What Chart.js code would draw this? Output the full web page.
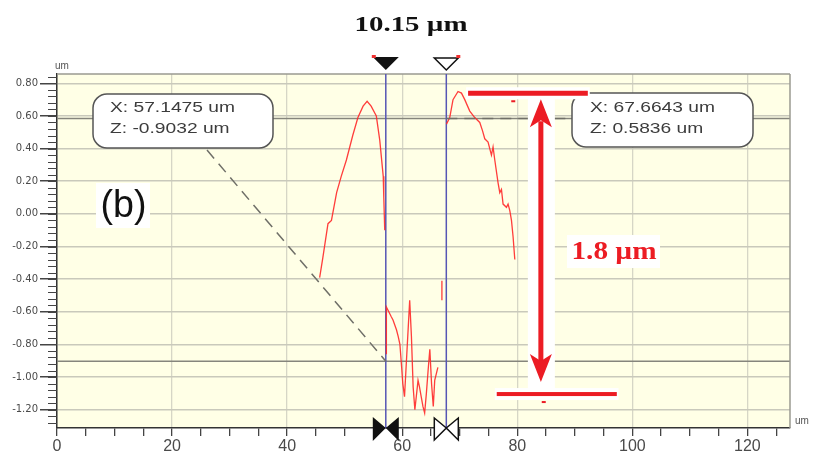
<!DOCTYPE html>
<html>
<head>
<meta charset="utf-8">
<script src="https://cdn.jsdelivr.net/npm/chart.js@4.4.0/dist/chart.umd.min.js"></script>
<style>
  html, body { margin: 0; padding: 0; background: #fff; }
</style>
</head>
<body>
<canvas id="profile-chart" width="814" height="457"></canvas>
<script>
// profile segments (x in um, z in um)
const leftFlankX = [45.65, 46.2, 47.1, 47.7, 48.6, 49.4, 50.3, 51.4, 52.3, 53.2, 53.9, 54.6, 55.5, 56.1, 56.7, 56.8, 56.96];
const leftFlankZ = [-0.39, -0.27, -0.06, -0.04, 0.13, 0.23, 0.33, 0.48, 0.59, 0.66, 0.69, 0.66, 0.60, 0.45, 0.23, 0.10, -0.10];

const troughX = [57.25, 57.25, 58.1, 58.4, 59.0, 59.3, 59.6, 59.9, 60.1, 60.4, 61.3, 61.6, 61.9, 62.2, 62.75, 63.0, 63.3, 63.6, 63.9, 64.2, 64.5, 64.8, 65.1, 65.4, 65.65, 66.2];
const troughZ = [-0.86, -0.57, -0.63, -0.65, -0.71, -0.75, -0.80, -0.94, -1.04, -1.12, -0.53, -0.75, -1.06, -1.20, -1.02, -1.06, -1.12, -1.18, -1.22, -1.10, -0.96, -0.83, -1.04, -1.18, -1.02, -0.94];

const stubX = [66.9, 66.9];
const stubZ = [-0.41, -0.53];

const rightFlankX = [67.69, 68.26, 68.83, 69.7, 70.3, 70.87, 71.74, 72.61, 73.48, 73.95, 74.35, 74.92, 75.51, 75.79, 76.09, 76.66, 76.96, 77.25, 77.53, 78.12, 78.4, 78.7, 78.99, 79.27, 79.57];
const rightFlankZ = [0.55, 0.59, 0.70, 0.75, 0.74, 0.70, 0.63, 0.59, 0.56, 0.51, 0.46, 0.44, 0.36, 0.41, 0.33, 0.19, 0.13, 0.15, 0.06, 0.04, 0.06, 0.02, -0.04, -0.14, -0.28];

// cursors
const cursorX = [57.1475, 67.6643];
const cursorZ = [-0.9032, 0.5836];
const cursorText = [['X: 57.1475 um', 'Z: -0.9032 um'], ['X: 67.6643 um', 'Z: 0.5836 um']];

// step height annotation
const stepTopZ = 0.739;
const stepBottomZ = -1.104;
const widthLabel = '10.15 µm';
const heightLabel = '1.8 µm';
const panelLabel = '(b)';

const segments = [
  { x: leftFlankX, z: leftFlankZ },
  { x: troughX, z: troughZ },
  { x: stubX, z: stubZ },
  { x: rightFlankX, z: rightFlankZ }
];

function fitText(ctx, text, cx, cy, font, width, color) {
  ctx.save();
  ctx.font = font;
  ctx.fillStyle = color;
  ctx.textAlign = 'center';
  ctx.textBaseline = 'middle';
  const w = ctx.measureText(text).width;
  ctx.translate(cx, cy);
  ctx.scale(width / w, 1);
  ctx.fillText(text, 0, 0);
  ctx.restore();
}

function roundBox(ctx, x0, y0, x1, y1, r) {
  ctx.beginPath();
  ctx.moveTo(x0 + r, y0);
  ctx.arcTo(x1, y0, x1, y1, r);
  ctx.arcTo(x1, y1, x0, y1, r);
  ctx.arcTo(x0, y1, x0, y0, r);
  ctx.arcTo(x0, y0, x1, y0, r);
  ctx.closePath();
  ctx.fillStyle = '#fff';
  ctx.fill();
  ctx.strokeStyle = '#555';
  ctx.lineWidth = 1.5;
  ctx.stroke();
}

function seg(ctx, x0, y0, x1, y1) {
  ctx.beginPath();
  ctx.moveTo(x0, y0);
  ctx.lineTo(x1, y1);
  ctx.stroke();
}

const profileDecor = {
  id: 'profileDecor',
  beforeDraw(chart) {
    const { ctx, chartArea: a } = chart;
    ctx.save();
    ctx.fillStyle = '#ffffe6';
    ctx.fillRect(a.left, a.top, a.right - a.left, a.bottom - a.top);
    ctx.restore();
  },
  beforeDatasetsDraw(chart) {
    const { ctx, chartArea: a, scales: { x, y } } = chart;
    ctx.save();
    // cursor level lines
    ctx.strokeStyle = '#85857c';
    ctx.lineWidth = 1.5;
    cursorZ.forEach(z => {
      const p = y.getPixelForValue(z);
      seg(ctx, a.left, p, a.right, p);
    });
    // frame top / right
    ctx.strokeStyle = '#9a9a90';
    ctx.lineWidth = 1.5;
    seg(ctx, a.left, a.top, a.right, a.top);
    seg(ctx, a.right, a.top, a.right, a.bottom);
    // minor y ticks
    ctx.strokeStyle = '#444';
    ctx.lineWidth = 1;
    for (let i = -32; i <= 21; i++) {
      const p = Math.round(y.getPixelForValue(i * 0.04)) + 0.5;
      seg(ctx, a.left - 9, p, a.left, p);
    }
    // vertical cursors
    ctx.strokeStyle = '#5656b4';
    ctx.lineWidth = 1.5;
    cursorX.forEach(v => {
      const p = x.getPixelForValue(v);
      seg(ctx, p, a.top, p, a.bottom);
    });
    ctx.restore();
  },
  afterDatasetsDraw(chart) {
    const { ctx, chartArea: a, scales: { x, y } } = chart;
    const px = v => x.getPixelForValue(v);
    const py = v => y.getPixelForValue(v);
    ctx.save();

    // leader lines
    ctx.strokeStyle = '#6f6f68';
    ctx.lineWidth = 1.5;
    ctx.setLineDash([11, 7]);
    seg(ctx, 207, 150, px(cursorX[0]), py(cursorZ[0]));
    seg(ctx, px(cursorX[1]), py(cursorZ[1]), 572, py(cursorZ[1]));
    ctx.setLineDash([]);

    // callouts
    roundBox(ctx, 93, 94, 273, 148, 14);
    roundBox(ctx, 572, 93, 753, 147, 14);
    ctx.save();
    ctx.font = '15px "Liberation Sans"';
    const tw = ctx.measureText(cursorText[0][0]).width;
    ctx.restore();
    [[110, cursorText[0]], [590, cursorText[1]]].forEach(([x0, lines]) => {
      lines.forEach((t, i) => {
        ctx.save();
        ctx.font = '15px "Liberation Sans"';
        ctx.fillStyle = '#3c3c3c';
        ctx.textBaseline = 'middle';
        ctx.translate(x0, 108 + i * 20.5);
        ctx.scale(125 / tw, 1);
        ctx.fillText(t, 0, 0);
        ctx.restore();
      });
    });

    // panel label
    ctx.fillStyle = '#fff';
    ctx.fillRect(96, 183, 54, 45);
    fitText(ctx, panelLabel, 123.5, 207, '38px "Liberation Sans"', 46, '#111');

    // step height marks
    const red = '#ec1c24';
    const xa = px(84.1);
    const yt = py(stepTopZ), yb = py(stepBottomZ);
    ctx.fillStyle = '#fff';
    ctx.fillRect(px(71.1), yt - 6, px(92.6) - px(71.1), 12);
    ctx.fillRect(px(76.1), yb - 6, px(97.6) - px(76.1), 12);
    ctx.fillRect(xa - 13, yt + 4, 27, yb - yt - 8);
    ctx.fillStyle = red;
    ctx.fillRect(px(71.45), yt - 2.5, px(92.26) - px(71.45), 5);
    ctx.fillRect(px(76.43), yb - 2, px(97.3) - px(76.43), 4);
    ctx.fillRect(xa - 2.5, yt + 28, 5, yb - yt - 56);
    ctx.beginPath();
    ctx.moveTo(xa, yt + 6);
    ctx.lineTo(xa + 11, yt + 34);
    ctx.lineTo(xa, yt + 27);
    ctx.lineTo(xa - 11, yt + 34);
    ctx.closePath();
    ctx.fill();
    ctx.beginPath();
    ctx.moveTo(xa, yb - 12);
    ctx.lineTo(xa + 11, yb - 40);
    ctx.lineTo(xa, yb - 33);
    ctx.lineTo(xa - 11, yb - 40);
    ctx.closePath();
    ctx.fill();
    ctx.fillRect(px(79.3) - 2, yt + 7, 4, 2);
    ctx.fillRect(px(84.6) - 2, yb + 7, 4, 2);

    ctx.fillStyle = '#fff';
    ctx.fillRect(567, 235, 93, 33);
    fitText(ctx, heightLabel, 614, 252, 'bold 26px "Liberation Serif"', 85, red);

    // top title
    fitText(ctx, widthLabel, 411, 25, 'bold 22px "Liberation Serif"', 113, '#111');

    // cursor markers, top
    const m0 = px(cursorX[0]), m1 = px(cursorX[1]);
    ctx.lineWidth = 1.5;
    ctx.strokeStyle = '#111';
    ctx.fillStyle = '#111';
    ctx.beginPath();
    ctx.moveTo(m0 - 13, 57); ctx.lineTo(m0 + 13, 57); ctx.lineTo(m0, 70); ctx.closePath();
    ctx.fill();
    ctx.fillStyle = '#fff';
    ctx.beginPath();
    ctx.moveTo(m1 - 12, 58); ctx.lineTo(m1 + 12, 58); ctx.lineTo(m1, 70); ctx.closePath();
    ctx.fill(); ctx.stroke();
    ctx.fillStyle = '#f03030';
    ctx.fillRect(m0 - 14, 55, 4, 3);
    ctx.fillRect(m1 + 10, 55, 4, 3);

    // cursor markers, bottom
    const yB = a.bottom;
    ctx.fillStyle = '#111';
    ctx.beginPath();
    ctx.moveTo(m0 - 13, yB - 11); ctx.lineTo(m0 - 13, yB + 13); ctx.lineTo(m0, yB); ctx.closePath();
    ctx.moveTo(m0 + 13, yB - 11); ctx.lineTo(m0 + 13, yB + 13); ctx.lineTo(m0, yB); ctx.closePath();
    ctx.fill();
    ctx.fillStyle = '#fff';
    ctx.beginPath();
    ctx.moveTo(m1 - 12, yB - 10); ctx.lineTo(m1 - 12, yB + 12); ctx.lineTo(m1, yB); ctx.closePath();
    ctx.moveTo(m1 + 12, yB - 10); ctx.lineTo(m1 + 12, yB + 12); ctx.lineTo(m1, yB); ctx.closePath();
    ctx.fill(); ctx.stroke();

    // unit labels
    ctx.fillStyle = '#555';
    ctx.font = '10px "Liberation Sans"';
    ctx.textBaseline = 'middle';
    ctx.fillText('um', 55, 66);
    ctx.fillText('um', 795, 421);
    ctx.restore();
  }
};

const chart = new Chart(document.getElementById('profile-chart'), {
  type: 'scatter',
  data: {
    datasets: segments.map(s => ({
      data: s.x.map((v, i) => ({ x: v, y: s.z[i] })),
      showLine: true,
      borderColor: 'rgba(255, 40, 40, 0.9)',
      borderWidth: 1.3,
      pointRadius: 0,
      tension: 0
    }))
  },
  options: {
    responsive: false,
    animation: false,
    layout: { padding: { top: 74, right: 24, left: 0, bottom: 0 } },
    plugins: {
      legend: { display: false },
      tooltip: { enabled: false }
    },
    scales: {
      x: {
        type: 'linear',
        min: 0,
        max: 127.4,
        afterFit: s => { s.height = 29; },
        ticks: {
          stepSize: 5,
          includeBounds: false,
          autoSkip: false,
          maxRotation: 0,
          padding: 1,
          color: '#4a4a4a',
          font: { family: 'Liberation Sans', size: 16 },
          callback: v => (v % 20 === 0 ? v : '')
        },
        grid: {
          color: c => (c.tick && c.tick.value % 20 === 0 ? '#d6d6c6' : 'rgba(0,0,0,0)'),
          lineWidth: 1.3,
          tickColor: '#444',
          tickLength: 8
        },
        border: { color: '#333', width: 1.5 }
      },
      y: {
        min: -1.312,
        max: 0.857,
        afterFit: s => { s.width = 57; },
        ticks: {
          stepSize: 0.2,
          includeBounds: false,
          padding: 2,
          color: '#4a4a4a',
          font: { family: 'DejaVu Sans', size: 10 },
          callback: v => v.toFixed(2)
        },
        grid: {
          color: '#c9c9bb',
          lineWidth: 1.5,
          tickColor: '#444',
          tickLength: 17
        },
        border: { color: '#333', width: 1.5 }
      }
    }
  },
  plugins: [profileDecor]
});
</script>
</body>
</html>
